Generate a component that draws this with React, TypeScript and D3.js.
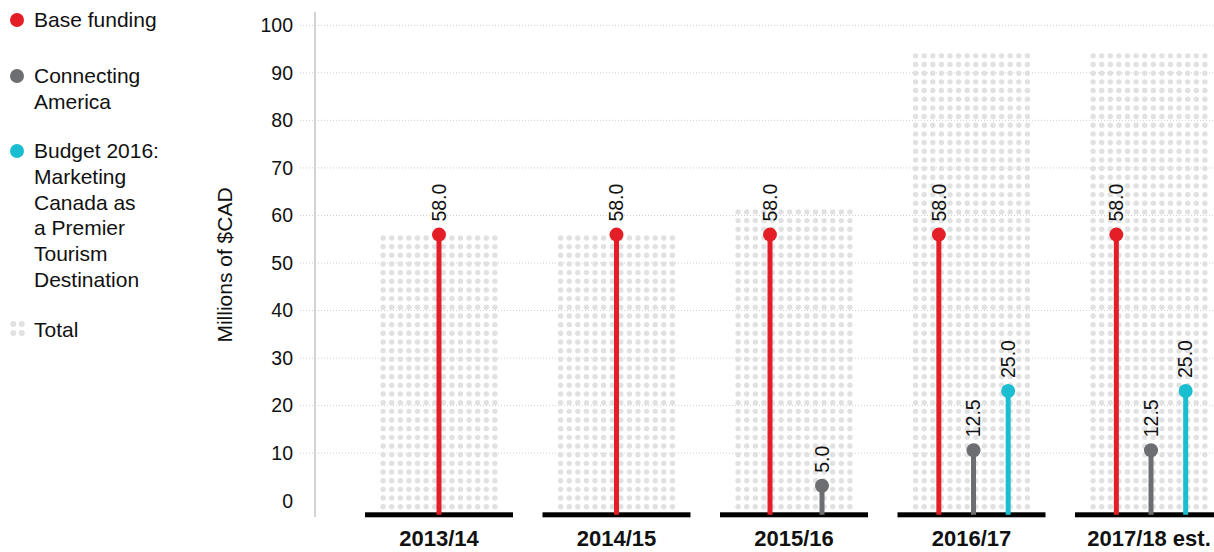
import React from "react";
import * as d3 from "d3";

const categories = ["2013/14", "2014/15", "2015/16", "2016/17", "2017/18 est."];
const baseFunding = [58, 58, 58, 58, 58];
const connectingAmerica = [0, 0, 5, 12.5, 12.5];
const budget2016 = [0, 0, 0, 25, 25];
const yTicks = [0, 10, 20, 30, 40, 50, 60, 70, 80, 90, 100];

const seriesDefs = [
  { key: "base", values: baseFunding, color: "#e31e26" },
  { key: "connecting", values: connectingAmerica, color: "#6d6e71" },
  { key: "budget", values: budget2016, color: "#1bbdd0" },
];

const legendItems = [
  { color: "#e31e26", lines: ["Base funding"], y: 20 },
  { color: "#6d6e71", lines: ["Connecting", "America"], y: 76 },
  { color: "#1bbdd0", lines: ["Budget 2016:", "Marketing", "Canada as", "a Premier", "Tourism", "Destination"], y: 151 },
];

const W = 1214;
const H = 552;
const FONT = "'Liberation Sans', Arial, Helvetica, sans-serif";

export default function App() {
  const totals = categories.map((_, i) => seriesDefs.reduce((s, d) => s + d.values[i], 0));

  const x = d3.scaleBand<string>().domain(categories).range([350.25, 1237.75]).padding(0);
  const yAxis = d3.scaleLinear().domain([0, 100]).range([500.7, 25.3]);
  const yMark = d3.scaleLinear().domain([0, 100]).range([509.5, 35.5]);
  const fmt = d3.format(".1f");

  const dotStepX = 8.6;
  const dotStepY = 8.67;
  const dotCols = 14;
  const dotR = 2.7;
  const bottomDot = 506.7;
  const baseY = 514.8;

  return (
    <svg width={W} height={H} style={{ position: "absolute", left: 0, top: 0, background: "#fff" }} fontFamily={FONT}>
      {/* legend */}
      {legendItems.map((it, i) => (
        <g key={i}>
          <circle cx={17} cy={it.y} r={7} fill={it.color} />
          {it.lines.map((ln, j) => (
            <text key={j} x={34} y={it.y + 7 + j * 25.8} fontSize={21} fill="#111">
              {ln}
            </text>
          ))}
        </g>
      ))}
      <g>
        {[0, 1].map((a) =>
          [0, 1].map((b) => <circle key={`${a}${b}`} cx={13.3 + a * 8.5} cy={324 + b * 9} r={3} fill="#e0e1e3" />)
        )}
        <text x={34} y={337} fontSize={21} fill="#111">
          Total
        </text>
      </g>

      {/* y title */}
      <text transform={`translate(232,265) rotate(-90)`} textAnchor="middle" fontSize={21} fill="#111">
        Millions of $CAD
      </text>

      {/* gridlines */}
      {yTicks.filter((t) => t > 0).map((t) => (
        <line
          key={t}
          x1={300}
          x2={W}
          y1={yAxis(t)}
          y2={yAxis(t)}
          stroke="#cfcfcf"
          strokeWidth={1}
          strokeDasharray="1,2"
        />
      ))}
      {/* tick labels */}
      {yTicks.map((t) => (
        <text key={t} x={293} y={yAxis(t)} dy="0.35em" textAnchor="end" fontSize={19.5} fill="#111">
          {t}
        </text>
      ))}
      {/* y axis line */}
      <line x1={315} x2={315} y1={12} y2={517} stroke="#c4c4c4" strokeWidth={1.5} />

      {/* dot totals */}
      {categories.map((c, i) => {
        const cx = x(c)! + x.bandwidth() / 2;
        const topY = yMark(totals[i]);
        const rows = Math.round((bottomDot - topY) / dotStepY) + 1;
        const dots: JSX.Element[] = [];
        for (let r = 0; r < rows; r++) {
          for (let k = 0; k < dotCols; k++) {
            dots.push(
              <circle
                key={`${r}-${k}`}
                cx={cx + (k - (dotCols - 1) / 2) * dotStepX}
                cy={bottomDot - r * dotStepY}
                r={dotR}
                fill="#e0e1e3"
              />
            );
          }
        }
        return <g key={c}>{dots}</g>;
      })}

      {/* baselines */}
      {categories.map((c) => (
        <rect key={c} x={x(c)! + 14.75} y={baseY - 2.5} width={x.bandwidth() - 29.5} height={5} fill="#000" />
      ))}

      {/* lollipops */}
      {categories.map((c, i) => {
        const cx = x(c)! + x.bandwidth() / 2;
        const present = seriesDefs.filter((s) => s.values[i] > 0);
        const inner = d3.scaleBand<string>().domain(present.map((s) => s.key)).range([-50, 54]).padding(0);
        return (
          <g key={c}>
            {present.map((s) => {
              const px = cx + inner(s.key)! + inner.bandwidth() / 2 - (present.length === 1 ? 2 : 0);
              const py = yMark(s.values[i]);
              return (
                <g key={s.key}>
                  <line x1={px} x2={px} y1={baseY} y2={py} stroke={s.color} strokeWidth={5} />
                  <circle cx={px} cy={py} r={7} fill={s.color} />
                  <text
                    transform={`translate(${px},${py - 13}) rotate(-90)`}
                    dy="0.35em"
                    fontSize={19.5}
                    fill="#111"
                  >
                    {fmt(s.values[i])}
                  </text>
                </g>
              );
            })}
          </g>
        );
      })}

      {/* x labels */}
      {categories.map((c) => (
        <text
          key={c}
          x={x(c)! + x.bandwidth() / 2}
          y={546}
          textAnchor="middle"
          fontSize={22}
          fontWeight="bold"
          fill="#111"
        >
          {c}
        </text>
      ))}
    </svg>
  );
}
